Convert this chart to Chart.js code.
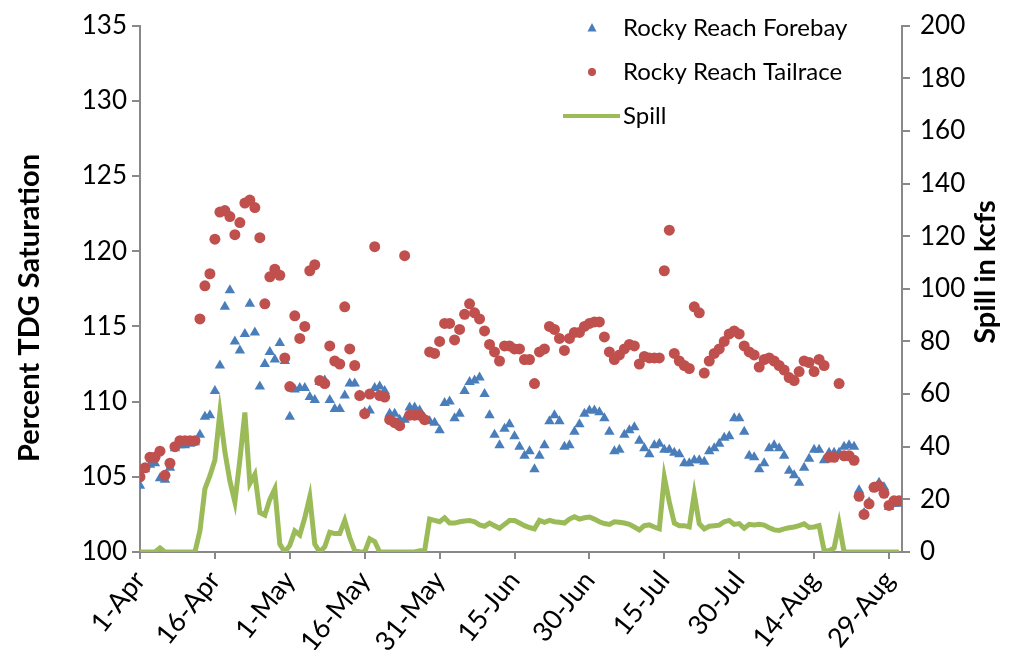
<!DOCTYPE html>
<html>
<head>
<meta charset="utf-8">
<script src="https://cdn.jsdelivr.net/npm/chart.js@4.4.1/dist/chart.umd.min.js"></script>
<style>
    html, body { margin: 0; padding: 0; background: #fff; }
</style>
</head>
<body>
<canvas id="tdg-chart" width="1013" height="650"></canvas>
<script>
// one value per day, 1-Apr (index 0) to 31-Aug (index 152)
const tickLabels = ["1-Apr", "16-Apr", "1-May", "16-May", "31-May", "15-Jun", "30-Jun", "15-Jul", "30-Jul", "14-Aug", "29-Aug"];

const forebay = [
    104.4, 105.5, 105.8, 105.9, 104.9, 104.8, 105.6, 106.9, 107.1, 107.1,
    107.2, 107.3, 107.8, 109.0, 109.1, 110.7, 112.4, 116.3, 117.4, 114.0,
    113.4, 114.5, 116.5, 114.6, 111.0, 112.5, 113.3, 112.8, 113.9, 112.7,
    109.0, 110.8, 110.9, 110.9, 110.3, 110.1, 111.3, 111.4, 110.1, 109.5,
    109.5, 110.4, 111.2, 111.2, 110.4, 109.3, 109.4, 110.9, 111.0, 110.7,
    109.2, 109.2, 108.8, 108.8, 109.6, 109.6, 109.4, 108.9, 108.7, 108.6,
    108.1, 109.9, 110.0, 108.9, 109.2, 110.7, 111.3, 111.4, 111.6, 110.5,
    109.1, 107.8, 107.1, 108.2, 108.5, 107.7, 107.0, 106.4, 106.7, 105.5,
    106.4, 107.1, 108.7, 109.1, 108.7, 107.0, 107.1, 108.0, 108.5, 109.2,
    109.4, 109.4, 109.3, 108.9, 108.0, 106.7, 106.8, 107.8, 108.1, 108.3,
    107.4, 106.9, 106.5, 107.1, 107.2, 106.8, 106.8, 106.6, 106.5, 105.9,
    105.9, 106.1, 106.1, 106.0, 106.7, 106.9, 107.2, 107.6, 107.7, 108.9,
    108.9, 108.0, 106.4, 106.3, 105.5, 105.9, 106.9, 107.1, 106.9, 106.4,
    105.4, 105.1, 104.6, 105.6, 106.2, 106.8, 106.8, 106.1, 106.6, 106.6,
    106.6, 107.0, 107.1, 107.0, 104.1, 102.6, 103.3, 104.3, 104.6, 104.3,
    103.0, 103.2, 103.2
];

const tailrace = [
    105.0, 105.6, 106.3, 106.3, 106.7, 105.1, 105.9, 107.0, 107.4, 107.4,
    107.4, 107.4, 115.5, 117.7, 118.5, 120.8, 122.6, 122.7, 122.3, 121.1,
    121.9, 123.2, 123.4, 122.9, 120.9, 116.5, 118.3, 118.8, 118.4, 112.9,
    111.0, 115.7, 114.2, 115.0, 118.7, 119.1, 111.4, 111.2, 113.7, 112.7,
    112.5, 116.3, 113.5, 112.4, 110.4, 109.2, 110.5, 120.3, 110.4, 110.3,
    108.8, 108.6, 108.4, 119.7, 109.1, 109.1, 109.1, 108.8, 113.3, 113.2,
    114.0, 115.2, 115.2, 114.1, 114.8, 115.8, 116.5, 115.9, 115.5, 114.7,
    113.8, 113.3, 112.7, 113.7, 113.7, 113.5, 113.5, 112.8, 112.8, 111.2,
    113.3, 113.5, 115.0, 114.8, 114.2, 113.4, 114.2, 114.6, 114.6, 115.0,
    115.2, 115.3, 115.3, 114.3, 113.3, 112.8, 113.1, 113.5, 113.8, 113.7,
    112.5, 113.0, 112.9, 112.9, 112.9, 118.7, 121.4, 113.2, 112.7, 112.4,
    112.2, 116.3, 115.9, 111.9, 112.7, 113.2, 113.5, 114.0, 114.5, 114.7,
    114.5, 113.7, 113.3, 113.1, 112.3, 112.8, 112.9, 112.7, 112.4, 112.1,
    111.6, 111.4, 112.0, 112.7, 112.6, 112.0, 112.8, 112.4, 106.3, 106.3,
    111.2, 106.4, 106.4, 106.1, 103.7, 102.5, 103.2, 104.3, 104.4, 103.9,
    103.1, 103.4, 103.4
];

const spill = [
    0, 0, 0, 0, 1.5, 0, 0, 0, 0, 0,
    0, 0, 8, 24, 29, 35, 53, 38, 27, 19,
    35, 53, 26, 29.5, 15, 14, 20, 24, 3, 0,
    2.5, 8, 6.5, 13, 21, 3, 0, 2, 7.5, 7,
    7, 12, 5.5, 0.5, 0, 0, 5, 4, 0, 0,
    0, 0, 0, 0, 0, 0, 0.5, 0.5, 12.5, 12,
    11.5, 13, 11, 11, 11.5, 11.8, 12, 11.5, 10.3, 9.8,
    11, 10, 9, 10.5, 12, 12, 11, 10, 9.3, 8.8,
    12, 11.3, 12, 11.5, 11.3, 11, 12.5, 13.4, 12.5, 13,
    13.3, 12.5, 11.5, 10.8, 10.5, 11.5, 11.3, 11, 10.5, 9.5,
    8.4, 10, 10.3, 9.5, 8.8, 28.4, 19, 11, 10, 10,
    9.5, 22, 10.7, 8.8, 9.8, 10, 10.2, 11.5, 12, 10.5,
    10.8, 9, 10.5, 10.3, 10.5, 10.2, 9.2, 8.4, 8.2, 8.8,
    9.2, 9.5, 10, 10.7, 9.3, 9.5, 10, 0.6, 0.5, 1.5,
    10.7, 0, 0, 0, 0, 0, 0, 0, 0, 0,
    0, 0, 0
];

const FONT = "Lato";
const AXIS_GREY = "#898989";

const toPoints = arr => arr.map((v, i) => ({ x: i, y: v }));

// axis titles drawn by hand so both read bottom-to-top, plus the in-plot legend
const extras = {
    id: "extras",
    afterDraw(chart) {
        const ctx = chart.ctx;
        const area = chart.chartArea;
        ctx.save();
        ctx.fillStyle = "#000";
        ctx.textBaseline = "middle";

        ctx.font = "bold 29px " + FONT;
        ctx.textAlign = "center";
        ctx.save();
        ctx.translate(30, 308);
        ctx.rotate(-Math.PI / 2);
        ctx.fillText("Percent TDG Saturation", 0, 0);
        ctx.restore();
        ctx.save();
        ctx.translate(986, 272);
        ctx.rotate(-Math.PI / 2);
        ctx.fillText("Spill in kcfs", 0, 0);
        ctx.restore();

        // legend
        const mx = area.right - 310;
        const tx = area.right - 279;
        const rows = [28, 72, 116];
        ctx.font = "24px " + FONT;
        ctx.textAlign = "left";
        chart.data.datasets.slice().sort((a, b) => a.legendIndex - b.legendIndex).forEach((ds, i) => {
            const y = rows[i];
            if (ds.showLine === false) {
                ctx.fillStyle = ds.backgroundColor;
                ctx.beginPath();
                if (ds.pointStyle === "triangle") {
                    ctx.moveTo(mx, y - 5);
                    ctx.lineTo(mx + 4.5, y + 3.5);
                    ctx.lineTo(mx - 4.5, y + 3.5);
                    ctx.closePath();
                } else {
                    ctx.arc(mx, y, 4, 0, Math.PI * 2);
                }
                ctx.fill();
            } else {
                ctx.strokeStyle = ds.borderColor;
                ctx.lineWidth = 4;
                ctx.beginPath();
                ctx.moveTo(mx - 29, y);
                ctx.lineTo(mx + 28, y);
                ctx.stroke();
            }
            ctx.fillStyle = "#000";
            ctx.fillText(ds.label, tx, y);
        });
        ctx.restore();
    }
};

const tdgChart = new Chart(document.getElementById("tdg-chart"), {
    type: "line",
    data: {
        datasets: [
            {
                label: "Spill",
                legendIndex: 2,
                data: toPoints(spill),
                yAxisID: "y1",
                borderColor: "#9BBB59",
                borderWidth: 5,
                pointRadius: 0,
                tension: 0,
                order: 0
            },
            {
                label: "Rocky Reach Tailrace",
                legendIndex: 1,
                data: toPoints(tailrace),
                yAxisID: "y",
                showLine: false,
                pointStyle: "circle",
                pointRadius: 5.5,
                pointBorderWidth: 0,
                backgroundColor: "#C0504D",
                borderColor: "#C0504D",
                order: 1
            },
            {
                label: "Rocky Reach Forebay",
                legendIndex: 0,
                data: toPoints(forebay),
                yAxisID: "y",
                showLine: false,
                pointStyle: "triangle",
                pointRadius: 6,
                pointBorderWidth: 0,
                backgroundColor: "#4A7EBB",
                borderColor: "#4A7EBB",
                order: 2
            }
        ]
    },
    options: {
        responsive: false,
        animation: false,
        layout: {
            padding: { top: 22, left: 0, right: 0, bottom: 0 }
        },
        plugins: {
            legend: { display: false },
            tooltip: { enabled: false }
        },
        scales: {
            x: {
                type: "linear",
                min: 0,
                max: 152.6,
                afterBuildTicks: axis => {
                    axis.ticks = tickLabels.map((_, i) => ({ value: i * 15 }));
                },
                afterFit: axis => { axis.height = 98; },
                ticks: {
                    callback: (value, i) => tickLabels[i],
                    minRotation: 51,
                    maxRotation: 51,
                    padding: 6,
                    color: "#000",
                    font: { family: FONT, size: 27 }
                },
                grid: {
                    drawOnChartArea: false,
                    tickLength: 7,
                    color: AXIS_GREY,
                    lineWidth: 2
                },
                border: { color: AXIS_GREY, width: 2 }
            },
            y: {
                position: "left",
                min: 100,
                max: 135,
                afterFit: axis => { axis.width = 140; },
                ticks: {
                    stepSize: 5,
                    padding: 5,
                    color: "#000",
                    font: { family: FONT, size: 26 }
                },
                grid: {
                    drawOnChartArea: false,
                    tickLength: 8,
                    color: AXIS_GREY,
                    lineWidth: 2
                },
                border: { color: AXIS_GREY, width: 2 }
            },
            y1: {
                position: "right",
                min: 0,
                max: 200,
                afterFit: axis => { axis.width = 111; },
                ticks: {
                    stepSize: 20,
                    padding: 10,
                    color: "#000",
                    font: { family: FONT, size: 26 }
                },
                grid: {
                    drawOnChartArea: false,
                    tickLength: 8,
                    color: AXIS_GREY,
                    lineWidth: 2
                },
                border: { color: AXIS_GREY, width: 2 }
            }
        }
    },
    plugins: [extras]
});
</script>
</body>
</html>
